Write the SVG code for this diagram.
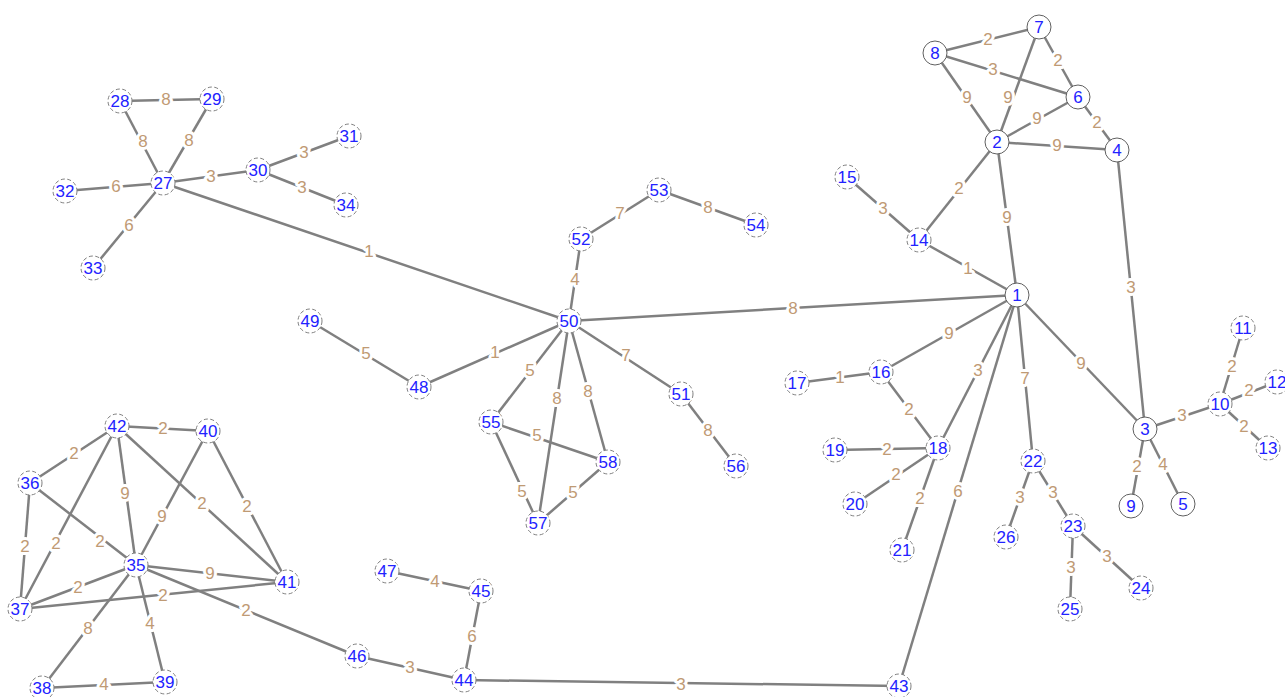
<svg xmlns="http://www.w3.org/2000/svg" width="1285" height="697" viewBox="0 0 1285 697">
<style>
.e line{stroke:#808080;stroke-width:2.5;stroke-linecap:butt}
.w{font-family:"Liberation Sans",Arial,sans-serif;font-size:17px;fill:#bf9a74;text-anchor:middle;stroke:#fff;stroke-width:6;paint-order:stroke;stroke-linejoin:round}
.n circle{fill:#fff;stroke:#606060;stroke-width:1}
.n.d circle{stroke:#808080;stroke-dasharray:4 2.5}
.n text{font-family:"Liberation Sans",Arial,sans-serif;font-size:17px;fill:#2222ff;text-anchor:middle;stroke:#fff;stroke-width:2.5;paint-order:stroke}
</style>
<rect width="1285" height="697" fill="#fff"/>
<g id="connectors" class="e">
<line x1="935" y1="53" x2="1039" y2="27"/>
<line x1="1039" y1="27" x2="1078" y2="97"/>
<line x1="935" y1="53" x2="1078" y2="97"/>
<line x1="935" y1="53" x2="997" y2="142"/>
<line x1="1039" y1="27" x2="997" y2="142"/>
<line x1="997" y1="142" x2="1078" y2="97"/>
<line x1="1078" y1="97" x2="1117" y2="150"/>
<line x1="997" y1="142" x2="1117" y2="150"/>
<line x1="997" y1="142" x2="919" y2="240"/>
<line x1="997" y1="142" x2="1017" y2="295"/>
<line x1="1117" y1="150" x2="1145" y2="429"/>
<line x1="847" y1="177" x2="919" y2="240"/>
<line x1="919" y1="240" x2="1017" y2="295"/>
<line x1="569" y1="321" x2="1017" y2="295"/>
<line x1="1017" y1="295" x2="881" y2="372"/>
<line x1="1017" y1="295" x2="938" y2="448"/>
<line x1="1017" y1="295" x2="899" y2="686"/>
<line x1="1017" y1="295" x2="1033" y2="461"/>
<line x1="1017" y1="295" x2="1145" y2="429"/>
<line x1="1145" y1="429" x2="1220" y2="404"/>
<line x1="1220" y1="404" x2="1243" y2="328"/>
<line x1="1220" y1="404" x2="1277" y2="382"/>
<line x1="1220" y1="404" x2="1268" y2="448"/>
<line x1="1145" y1="429" x2="1131" y2="506"/>
<line x1="1145" y1="429" x2="1183" y2="504"/>
<line x1="797" y1="383" x2="881" y2="372"/>
<line x1="881" y1="372" x2="938" y2="448"/>
<line x1="835" y1="450" x2="938" y2="448"/>
<line x1="855" y1="504" x2="938" y2="448"/>
<line x1="902" y1="550" x2="938" y2="448"/>
<line x1="1033" y1="461" x2="1006" y2="537"/>
<line x1="1033" y1="461" x2="1073" y2="526"/>
<line x1="1073" y1="526" x2="1070" y2="609"/>
<line x1="1073" y1="526" x2="1141" y2="588"/>
<line x1="163" y1="183" x2="120" y2="101"/>
<line x1="120" y1="101" x2="212" y2="99"/>
<line x1="163" y1="183" x2="212" y2="99"/>
<line x1="163" y1="183" x2="258" y2="170"/>
<line x1="258" y1="170" x2="349" y2="136"/>
<line x1="258" y1="170" x2="346" y2="205"/>
<line x1="163" y1="183" x2="65" y2="191"/>
<line x1="163" y1="183" x2="93" y2="268"/>
<line x1="163" y1="183" x2="569" y2="321"/>
<line x1="569" y1="321" x2="581" y2="239"/>
<line x1="581" y1="239" x2="659" y2="190"/>
<line x1="659" y1="190" x2="756" y2="225"/>
<line x1="569" y1="321" x2="419" y2="387"/>
<line x1="419" y1="387" x2="310" y2="321"/>
<line x1="569" y1="321" x2="491" y2="422"/>
<line x1="569" y1="321" x2="538" y2="523"/>
<line x1="569" y1="321" x2="608" y2="462"/>
<line x1="569" y1="321" x2="681" y2="394"/>
<line x1="681" y1="394" x2="736" y2="466"/>
<line x1="491" y1="422" x2="608" y2="462"/>
<line x1="491" y1="422" x2="538" y2="523"/>
<line x1="538" y1="523" x2="608" y2="462"/>
<line x1="117" y1="426" x2="208" y2="431"/>
<line x1="117" y1="426" x2="30" y2="483"/>
<line x1="117" y1="426" x2="20" y2="609"/>
<line x1="117" y1="426" x2="136" y2="565"/>
<line x1="117" y1="426" x2="287" y2="582"/>
<line x1="208" y1="431" x2="136" y2="565"/>
<line x1="208" y1="431" x2="287" y2="582"/>
<line x1="30" y1="483" x2="136" y2="565"/>
<line x1="30" y1="483" x2="20" y2="609"/>
<line x1="136" y1="565" x2="287" y2="582"/>
<line x1="136" y1="565" x2="20" y2="609"/>
<line x1="20" y1="609" x2="287" y2="582"/>
<line x1="136" y1="565" x2="42" y2="688"/>
<line x1="136" y1="565" x2="165" y2="682"/>
<line x1="42" y1="688" x2="165" y2="682"/>
<line x1="136" y1="565" x2="357" y2="656"/>
<line x1="357" y1="656" x2="464" y2="680"/>
<line x1="464" y1="680" x2="481" y2="591"/>
<line x1="481" y1="591" x2="387" y2="571"/>
<line x1="464" y1="680" x2="899" y2="686"/>
</g>
<g id="edge-labels">
<text class="w" x="988" y="45">2</text>
<text class="w" x="1058" y="66">2</text>
<text class="w" x="993" y="75">3</text>
<text class="w" x="967" y="103">9</text>
<text class="w" x="1008" y="103">9</text>
<text class="w" x="1037" y="124">9</text>
<text class="w" x="1097" y="128">2</text>
<text class="w" x="1057" y="151">9</text>
<text class="w" x="959" y="194">2</text>
<text class="w" x="1007" y="223">9</text>
<text class="w" x="1131" y="293">3</text>
<text class="w" x="883" y="214">3</text>
<text class="w" x="968" y="274">1</text>
<text class="w" x="793" y="314">8</text>
<text class="w" x="949" y="339">9</text>
<text class="w" x="978" y="376">3</text>
<text class="w" x="958" y="497">6</text>
<text class="w" x="1025" y="384">7</text>
<text class="w" x="1081" y="369">9</text>
<text class="w" x="1182" y="421">3</text>
<text class="w" x="1232" y="372">2</text>
<text class="w" x="1249" y="396">2</text>
<text class="w" x="1244" y="432">2</text>
<text class="w" x="1137" y="472">2</text>
<text class="w" x="1163" y="470">4</text>
<text class="w" x="840" y="383">1</text>
<text class="w" x="909" y="415">2</text>
<text class="w" x="887" y="455">2</text>
<text class="w" x="896" y="480">2</text>
<text class="w" x="920" y="504">2</text>
<text class="w" x="1020" y="503">3</text>
<text class="w" x="1053" y="498">3</text>
<text class="w" x="1071" y="573">3</text>
<text class="w" x="1107" y="562">3</text>
<text class="w" x="143" y="147">8</text>
<text class="w" x="166" y="105">8</text>
<text class="w" x="189" y="146">8</text>
<text class="w" x="211" y="182">3</text>
<text class="w" x="304" y="158">3</text>
<text class="w" x="302" y="193">3</text>
<text class="w" x="116" y="192">6</text>
<text class="w" x="129" y="231">6</text>
<text class="w" x="369" y="257">1</text>
<text class="w" x="575" y="285">4</text>
<text class="w" x="620" y="219">7</text>
<text class="w" x="708" y="213">8</text>
<text class="w" x="495" y="358">1</text>
<text class="w" x="366" y="359">5</text>
<text class="w" x="530" y="376">5</text>
<text class="w" x="557" y="404">8</text>
<text class="w" x="588" y="397">8</text>
<text class="w" x="626" y="361">7</text>
<text class="w" x="708" y="436">8</text>
<text class="w" x="537" y="441">5</text>
<text class="w" x="522" y="497">5</text>
<text class="w" x="573" y="498">5</text>
<text class="w" x="163" y="434">2</text>
<text class="w" x="74" y="459">2</text>
<text class="w" x="56" y="549">2</text>
<text class="w" x="125" y="499">9</text>
<text class="w" x="202" y="509">2</text>
<text class="w" x="162" y="522">9</text>
<text class="w" x="247" y="512">2</text>
<text class="w" x="100" y="547">2</text>
<text class="w" x="25" y="552">2</text>
<text class="w" x="210" y="579">9</text>
<text class="w" x="78" y="593">2</text>
<text class="w" x="163" y="601">2</text>
<text class="w" x="88" y="634">8</text>
<text class="w" x="150" y="629">4</text>
<text class="w" x="104" y="690">4</text>
<text class="w" x="246" y="616">2</text>
<text class="w" x="410" y="673">3</text>
<text class="w" x="472" y="642">6</text>
<text class="w" x="435" y="587">4</text>
<text class="w" x="681" y="690">3</text>
</g>
<g id="n1" class="n"><circle cx="1017" cy="295" r="12"/><text x="1017" y="301">1</text></g>
<g id="n2" class="n"><circle cx="997" cy="142" r="12"/><text x="997" y="148">2</text></g>
<g id="n3" class="n"><circle cx="1145" cy="429" r="12"/><text x="1145" y="435">3</text></g>
<g id="n4" class="n"><circle cx="1117" cy="150" r="12"/><text x="1117" y="156">4</text></g>
<g id="n5" class="n"><circle cx="1183" cy="504" r="12"/><text x="1183" y="510">5</text></g>
<g id="n6" class="n"><circle cx="1078" cy="97" r="12"/><text x="1078" y="103">6</text></g>
<g id="n7" class="n"><circle cx="1039" cy="27" r="12"/><text x="1039" y="33">7</text></g>
<g id="n8" class="n"><circle cx="935" cy="53" r="12"/><text x="935" y="59">8</text></g>
<g id="n9" class="n"><circle cx="1131" cy="506" r="12"/><text x="1131" y="512">9</text></g>
<g id="n10" class="n d"><circle cx="1220" cy="404" r="12"/><text x="1220" y="410">10</text></g>
<g id="n11" class="n d"><circle cx="1243" cy="328" r="12"/><text x="1243" y="334">11</text></g>
<g id="n12" class="n d"><circle cx="1277" cy="382" r="12"/><text x="1277" y="388">12</text></g>
<g id="n13" class="n d"><circle cx="1268" cy="448" r="12"/><text x="1268" y="454">13</text></g>
<g id="n14" class="n d"><circle cx="919" cy="240" r="12"/><text x="919" y="246">14</text></g>
<g id="n15" class="n d"><circle cx="847" cy="177" r="12"/><text x="847" y="183">15</text></g>
<g id="n16" class="n d"><circle cx="881" cy="372" r="12"/><text x="881" y="378">16</text></g>
<g id="n17" class="n d"><circle cx="797" cy="383" r="12"/><text x="797" y="389">17</text></g>
<g id="n18" class="n d"><circle cx="938" cy="448" r="12"/><text x="938" y="454">18</text></g>
<g id="n19" class="n d"><circle cx="835" cy="450" r="12"/><text x="835" y="456">19</text></g>
<g id="n20" class="n d"><circle cx="855" cy="504" r="12"/><text x="855" y="510">20</text></g>
<g id="n21" class="n d"><circle cx="902" cy="550" r="12"/><text x="902" y="556">21</text></g>
<g id="n22" class="n d"><circle cx="1033" cy="461" r="12"/><text x="1033" y="467">22</text></g>
<g id="n23" class="n d"><circle cx="1073" cy="526" r="12"/><text x="1073" y="532">23</text></g>
<g id="n24" class="n d"><circle cx="1141" cy="588" r="12"/><text x="1141" y="594">24</text></g>
<g id="n25" class="n d"><circle cx="1070" cy="609" r="12"/><text x="1070" y="615">25</text></g>
<g id="n26" class="n d"><circle cx="1006" cy="537" r="12"/><text x="1006" y="543">26</text></g>
<g id="n27" class="n d"><circle cx="163" cy="183" r="12"/><text x="163" y="189">27</text></g>
<g id="n28" class="n d"><circle cx="120" cy="101" r="12"/><text x="120" y="107">28</text></g>
<g id="n29" class="n d"><circle cx="212" cy="99" r="12"/><text x="212" y="105">29</text></g>
<g id="n30" class="n d"><circle cx="258" cy="170" r="12"/><text x="258" y="176">30</text></g>
<g id="n31" class="n d"><circle cx="349" cy="136" r="12"/><text x="349" y="142">31</text></g>
<g id="n32" class="n d"><circle cx="65" cy="191" r="12"/><text x="65" y="197">32</text></g>
<g id="n33" class="n d"><circle cx="93" cy="268" r="12"/><text x="93" y="274">33</text></g>
<g id="n34" class="n d"><circle cx="346" cy="205" r="12"/><text x="346" y="211">34</text></g>
<g id="n35" class="n d"><circle cx="136" cy="565" r="12"/><text x="136" y="571">35</text></g>
<g id="n36" class="n d"><circle cx="30" cy="483" r="12"/><text x="30" y="489">36</text></g>
<g id="n37" class="n d"><circle cx="20" cy="609" r="12"/><text x="20" y="615">37</text></g>
<g id="n38" class="n d"><circle cx="42" cy="688" r="12"/><text x="42" y="694">38</text></g>
<g id="n39" class="n d"><circle cx="165" cy="682" r="12"/><text x="165" y="688">39</text></g>
<g id="n40" class="n d"><circle cx="208" cy="431" r="12"/><text x="208" y="437">40</text></g>
<g id="n41" class="n d"><circle cx="287" cy="582" r="12"/><text x="287" y="588">41</text></g>
<g id="n42" class="n d"><circle cx="117" cy="426" r="12"/><text x="117" y="432">42</text></g>
<g id="n43" class="n d"><circle cx="899" cy="686" r="12"/><text x="899" y="692">43</text></g>
<g id="n44" class="n d"><circle cx="464" cy="680" r="12"/><text x="464" y="686">44</text></g>
<g id="n45" class="n d"><circle cx="481" cy="591" r="12"/><text x="481" y="597">45</text></g>
<g id="n46" class="n d"><circle cx="357" cy="656" r="12"/><text x="357" y="662">46</text></g>
<g id="n47" class="n d"><circle cx="387" cy="571" r="12"/><text x="387" y="577">47</text></g>
<g id="n48" class="n d"><circle cx="419" cy="387" r="12"/><text x="419" y="393">48</text></g>
<g id="n49" class="n d"><circle cx="310" cy="321" r="12"/><text x="310" y="327">49</text></g>
<g id="n50" class="n d"><circle cx="569" cy="321" r="12"/><text x="569" y="327">50</text></g>
<g id="n51" class="n d"><circle cx="681" cy="394" r="12"/><text x="681" y="400">51</text></g>
<g id="n52" class="n d"><circle cx="581" cy="239" r="12"/><text x="581" y="245">52</text></g>
<g id="n53" class="n d"><circle cx="659" cy="190" r="12"/><text x="659" y="196">53</text></g>
<g id="n54" class="n d"><circle cx="756" cy="225" r="12"/><text x="756" y="231">54</text></g>
<g id="n55" class="n d"><circle cx="491" cy="422" r="12"/><text x="491" y="428">55</text></g>
<g id="n56" class="n d"><circle cx="736" cy="466" r="12"/><text x="736" y="472">56</text></g>
<g id="n57" class="n d"><circle cx="538" cy="523" r="12"/><text x="538" y="529">57</text></g>
<g id="n58" class="n d"><circle cx="608" cy="462" r="12"/><text x="608" y="468">58</text></g>
</svg>
